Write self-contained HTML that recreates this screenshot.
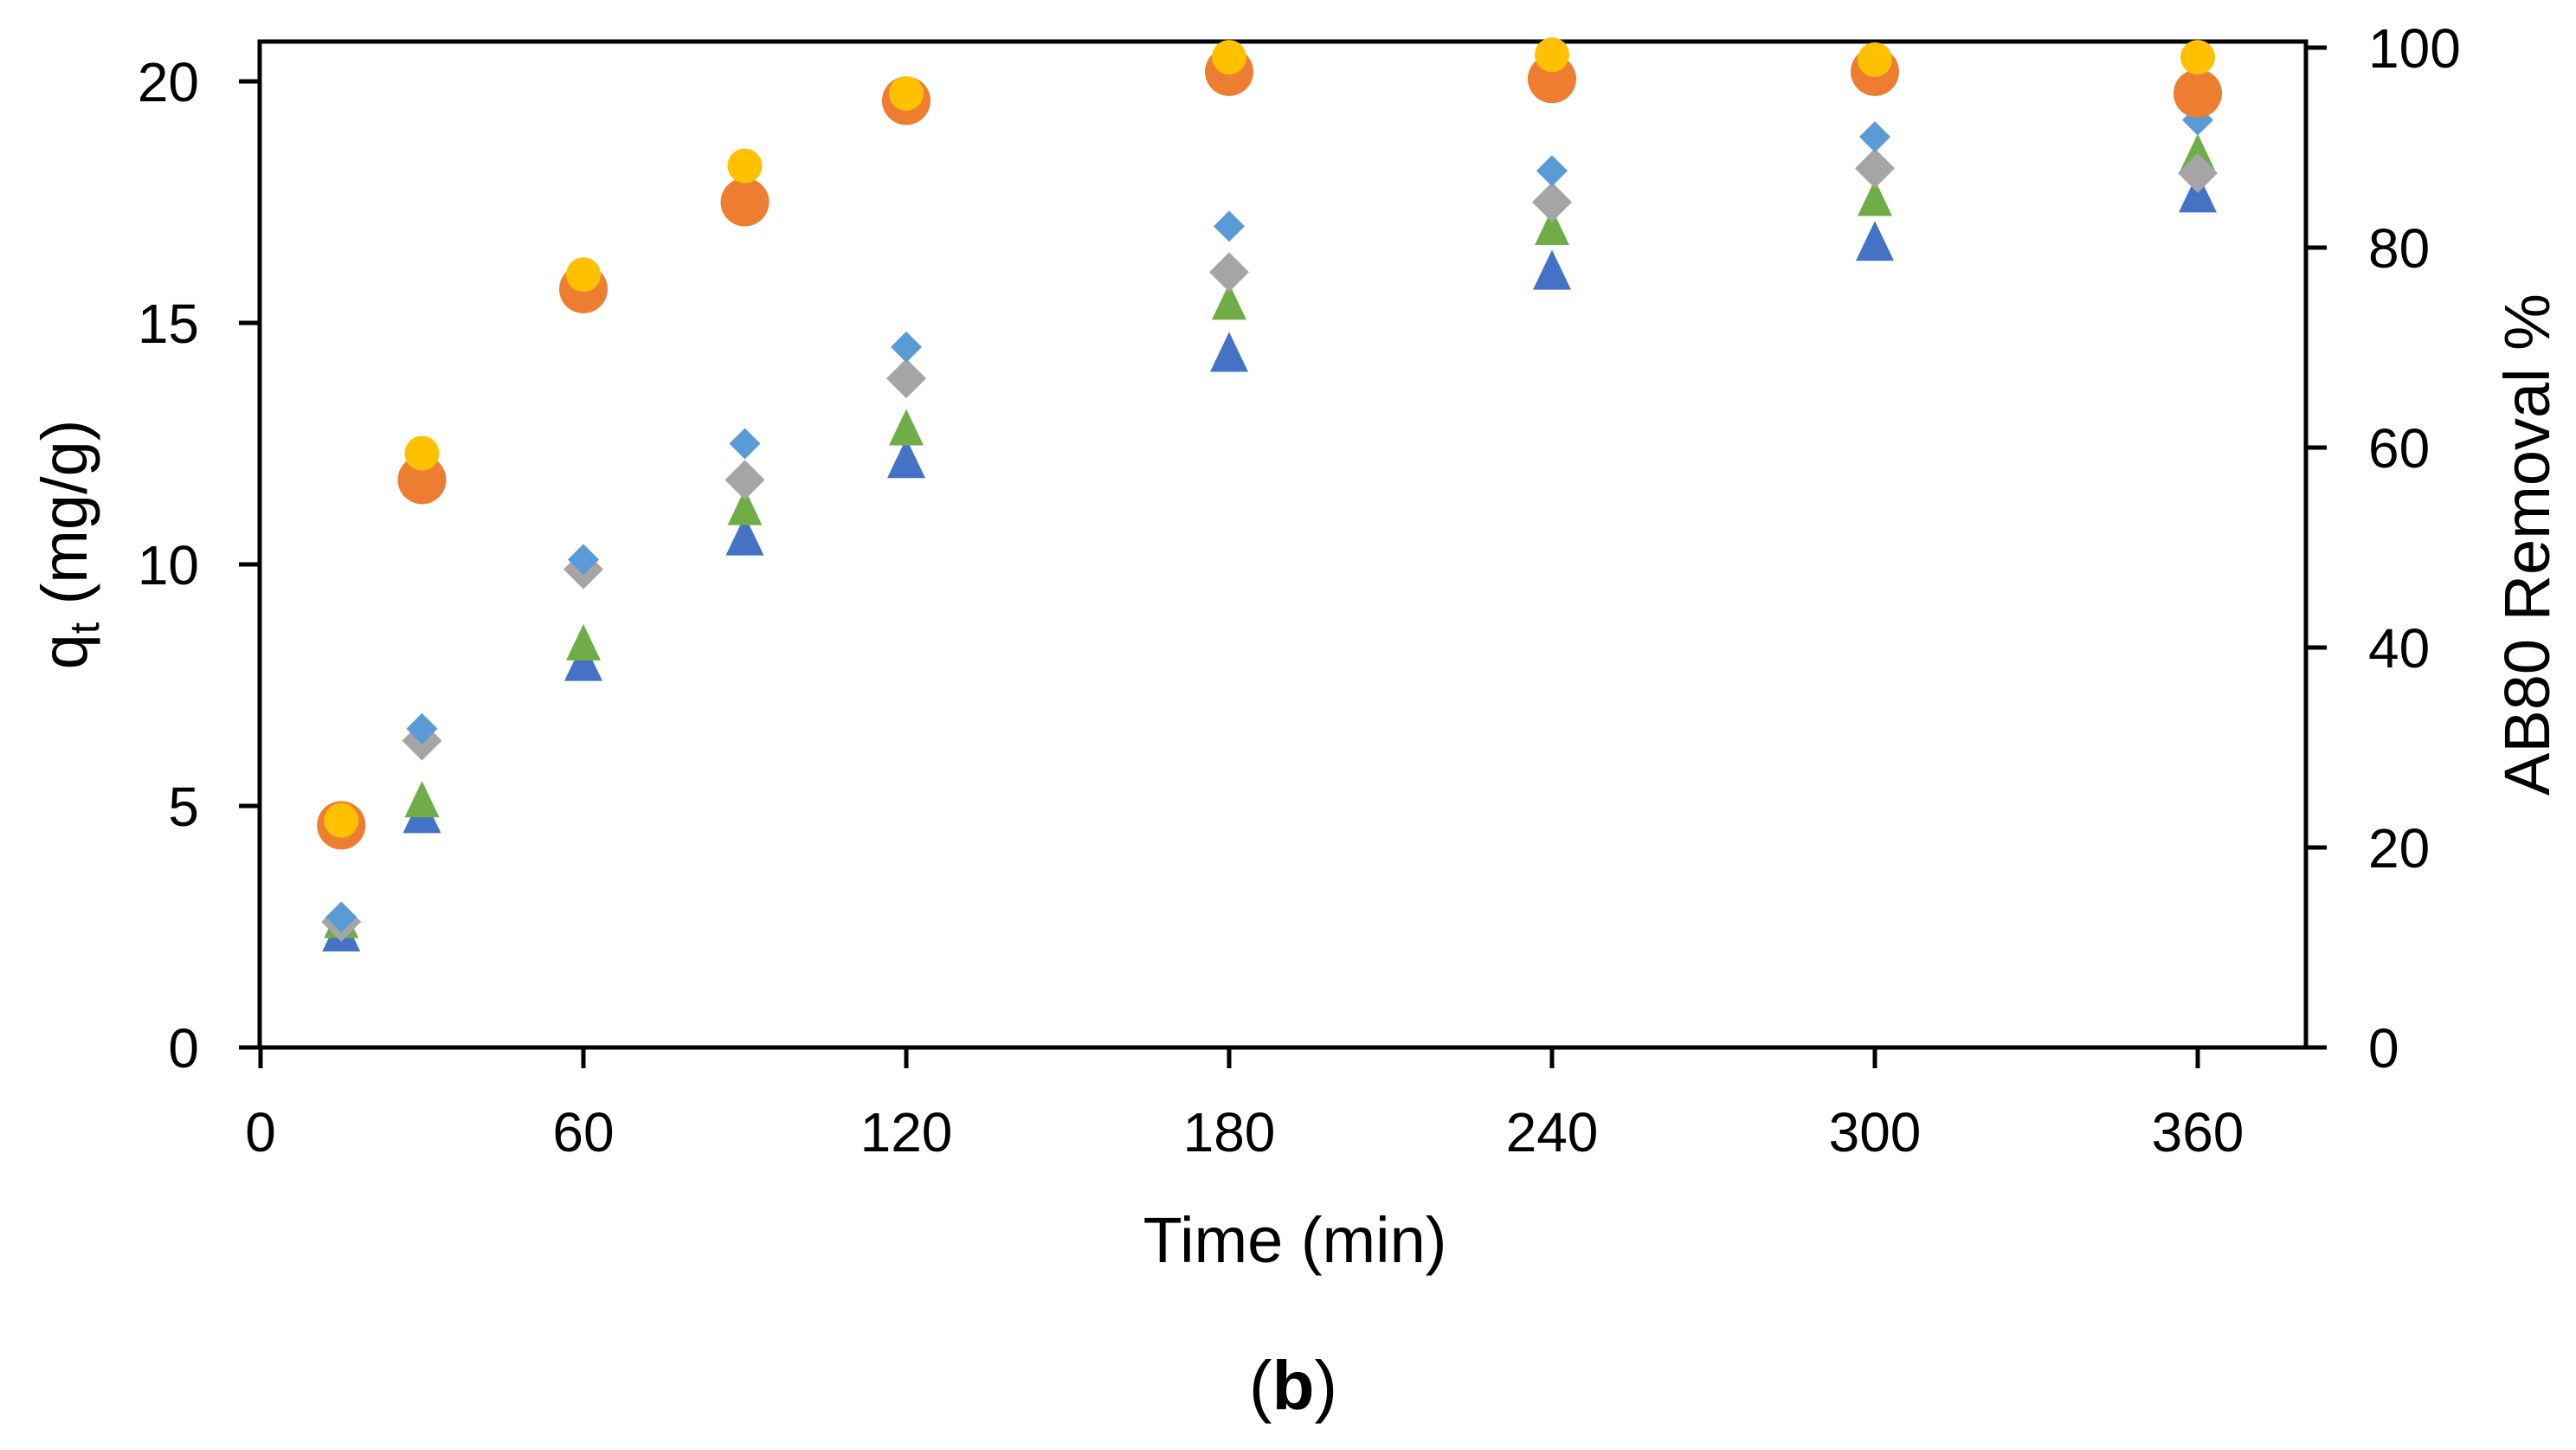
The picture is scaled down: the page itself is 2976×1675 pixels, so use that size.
<!DOCTYPE html>
<html><head><meta charset="utf-8"><style>
html,body{margin:0;padding:0;background:#fff;}
svg text{font-family:"Liberation Sans",sans-serif;fill:#000;}
</style></head><body>
<svg id="chart" width="2976" height="1670" xmlns="http://www.w3.org/2000/svg">
<g id="axes"></g>
<g id="marks"></g>
</svg>
<script>
const times = [15,30,60,90,120,180,240,300,360];
const orangeCircle = [4.6,11.75,15.7,17.5,19.6,20.2,20.05,20.2,19.75];
const yellowCircle = [4.7,12.3,16.0,18.25,19.75,20.5,20.55,20.45,20.5];
const lightBlueDiamond = [2.7,6.6,10.1,12.5,14.5,17.0,18.15,18.85,19.2];
const grayDiamond = [2.6,6.35,9.9,11.75,13.85,16.05,17.5,18.2,18.1];
const greenTriangle = [2.55,5.05,8.3,11.1,12.75,15.35,16.9,17.5,18.45];
const blueTriangle = [2.3,4.75,7.9,10.5,12.1,14.3,16.0,16.6,17.6];
const xTicks = [0,60,120,180,240,300,360];
const yLeftTicks = [0,5,10,15,20];
const yRightTicks = [0,20,40,60,80,100];

const NS="http://www.w3.org/2000/svg";
const X0=301, XPX=373/60, Y0=1210, YPX=279/5, YR=1155/100;
const L=300, R=2664, T=48;
function sx(v){return X0+v*XPX;}
function sy(v){return Y0-v*YPX;}
function syr(v){return Y0-v*YR;}
function mk(tag,attrs,parent){const e=document.createElementNS(NS,tag);for(const k in attrs)e.setAttribute(k,attrs[k]);parent.appendChild(e);return e;}
const ax=document.getElementById('axes'), mg=document.getElementById('marks');

let e;
e=mk('rect',{x:L,y:T,width:R-L,height:Y0-T,fill:'none',stroke:'#000','stroke-width':5},ax);


xTicks.forEach(t=>{
  let l=mk('line',{x1:sx(t),x2:sx(t),y1:Y0,y2:Y0+24,stroke:'#000','stroke-width':5},ax);
  
  
  let tx=mk('text',{x:sx(t),y:Y0+120,'font-size':64,'text-anchor':'middle'},ax);
  tx.textContent=t;
  
  
});
yLeftTicks.forEach(t=>{
  let l=mk('line',{x1:L-24,x2:L,y1:sy(t),y2:sy(t),stroke:'#000','stroke-width':5},ax);
  
  
  let tx=mk('text',{x:230,y:sy(t)+23,'font-size':64,'text-anchor':'end'},ax);
  tx.textContent=t;
  
  
});
yRightTicks.forEach(t=>{
  let l=mk('line',{x1:R,x2:R+24,y1:syr(t),y2:syr(t),stroke:'#000','stroke-width':5},ax);
  
  
  let tx=mk('text',{x:2736,y:syr(t)+23,'font-size':64,'text-anchor':'start'},ax);
  tx.textContent=t;
  
  
});
let xt=mk('text',{x:1496,y:1458,'font-size':74,'text-anchor':'middle'},ax);
xt.textContent='Time (min)';


let yt=mk('text',{transform:'translate(100,629) rotate(-90)','font-size':74,'text-anchor':'middle'},ax);
yt.innerHTML='q<tspan font-size="48" dy="14">t</tspan><tspan dy="-14"> (mg/g)</tspan>';


let yr=mk('text',{transform:'translate(2945,629) rotate(-90)','font-size':74,'text-anchor':'middle'},ax);
yr.textContent='AB80 Removal %';


let cap=mk('text',{x:1494,y:1628,'font-size':80,'text-anchor':'middle','font-family':'Liberation Serif, serif'},ax);
cap.innerHTML='(<tspan font-weight="bold">b</tspan>)';



function tri(vals,color,w,h,name){
  vals.forEach((v,i)=>{const x=sx(times[i]),y=sy(v);
    let p=mk('polygon',{points:`${x},${y-h*0.62} ${x-w/2},${y+h*0.38} ${x+w/2},${y+h*0.38}`,fill:color},mg);
    
    });
}
function dia(vals,color,w,h,name){
  vals.forEach((v,i)=>{const x=sx(times[i]),y=sy(v);
    let p=mk('polygon',{points:`${x},${y-h/2} ${x+w/2},${y} ${x},${y+h/2} ${x-w/2},${y}`,fill:color},mg);
    
    });
}
function circ(vals,color,r,name){
  vals.forEach((v,i)=>{
    let c=mk('ellipse',{cx:sx(times[i]),cy:sy(v),rx:r,ry:r,fill:color},mg);
    
    });
}
tri(blueTriangle,'#4472C4',44,46,'blue-triangle-point');
tri(greenTriangle,'#70AD47',40,42,'green-triangle-point');
dia(grayDiamond,'#A5A5A5',46,46,'gray-diamond-point');
dia(lightBlueDiamond,'#5B9BD5',36,36,'light-blue-diamond-point');
circ(orangeCircle,'#ED7D31',28,'orange-circle-point');
circ(yellowCircle,'#FFC000',20,'yellow-circle-point');
</script>
</body></html>
